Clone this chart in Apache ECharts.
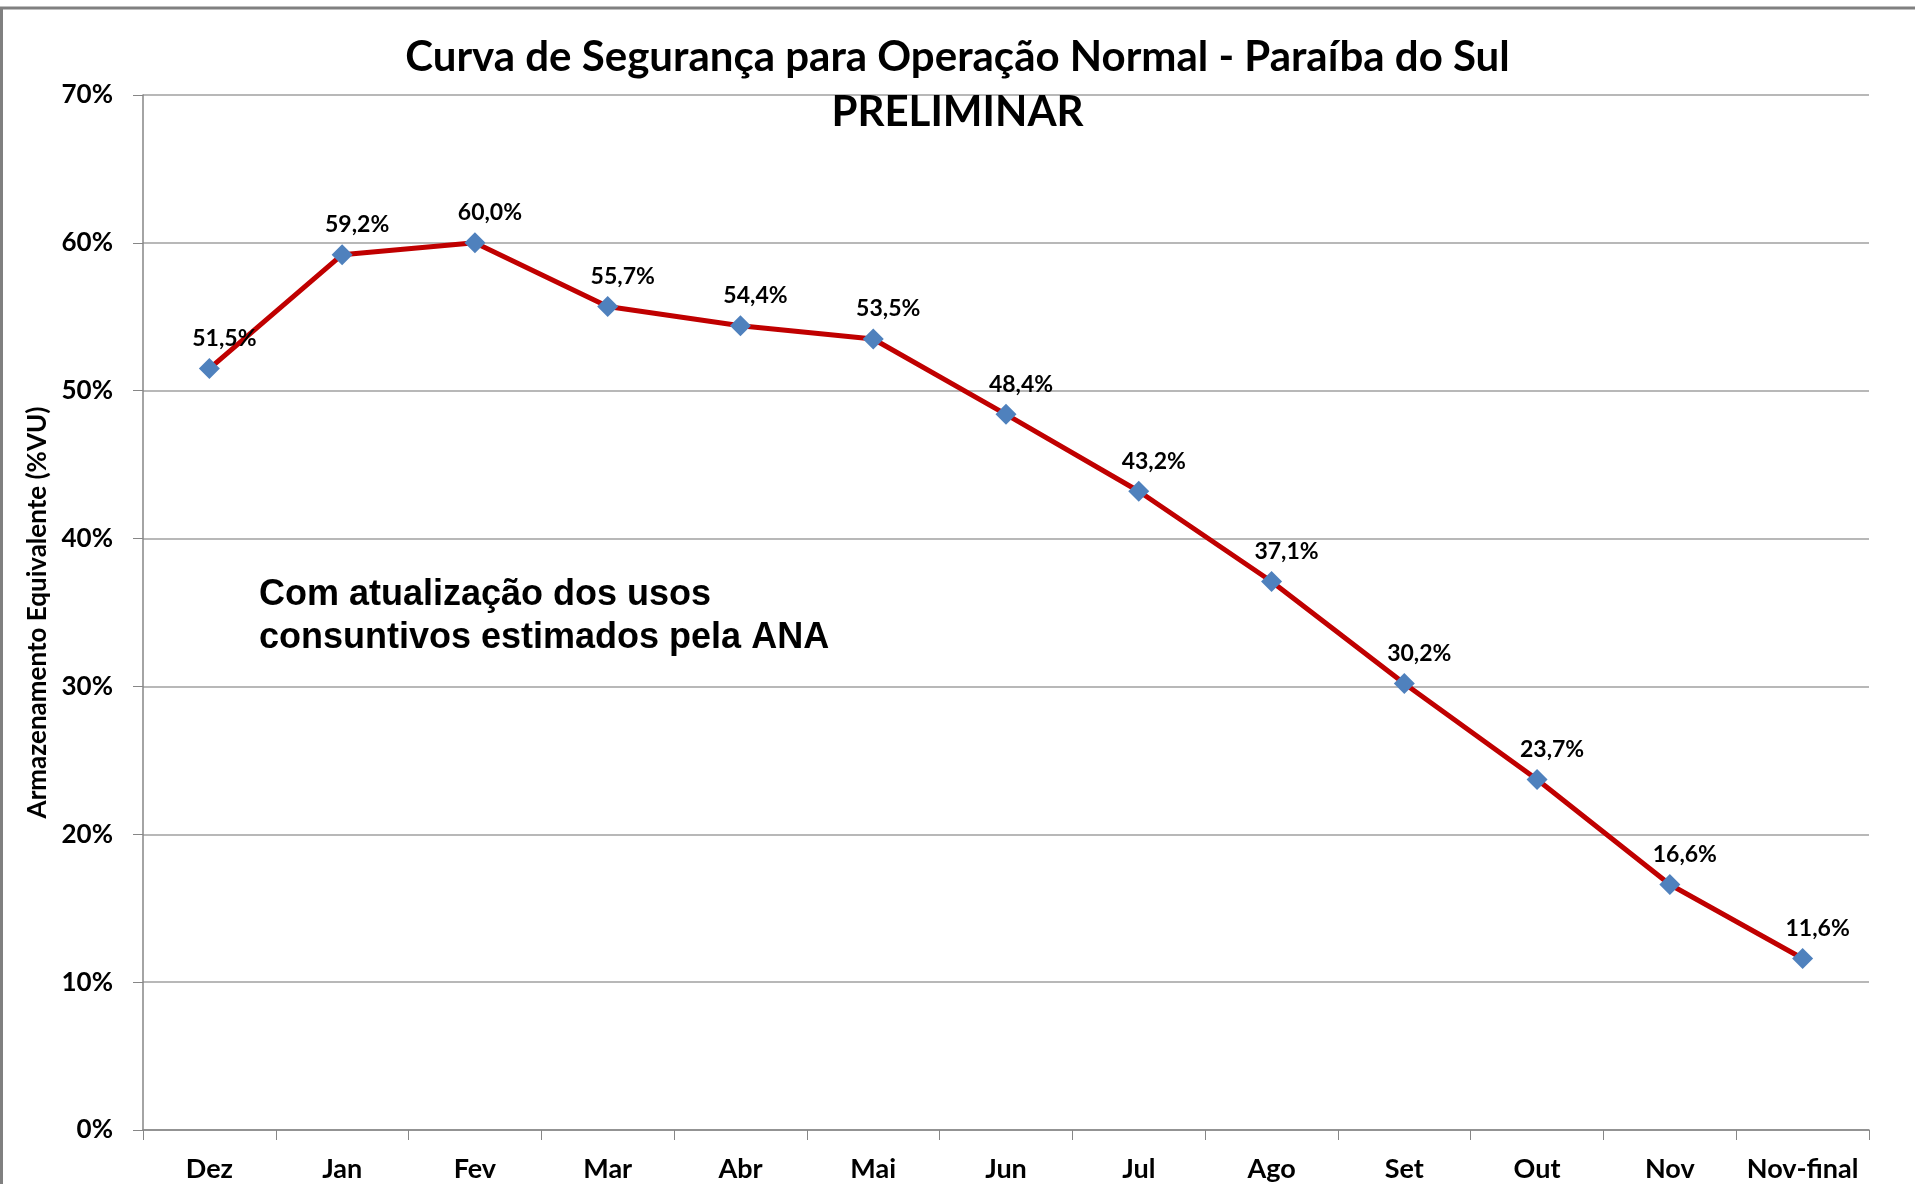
<!DOCTYPE html>
<html>
<head>
<meta charset="utf-8">
<title>Curva de Segurança - Paraíba do Sul</title>
<script src="https://cdn.jsdelivr.net/npm/echarts@6/dist/echarts.min.js"></script>
<style>
  html, body { margin: 0; padding: 0; background: #fff; }
  #chart { width: 1915px; height: 1184px; }
</style>
</head>
<body>
<div id="chart"></div>
<script>
// dados
const meses = ['Dez', 'Jan', 'Fev', 'Mar', 'Abr', 'Mai', 'Jun', 'Jul', 'Ago', 'Set', 'Out', 'Nov', 'Nov-final'];
const armazenamento = [51.5, 59.2, 60.0, 55.7, 54.4, 53.5, 48.4, 43.2, 37.1, 30.2, 23.7, 16.6, 11.6];
const yTicks = [0, 10, 20, 30, 40, 50, 60, 70];

const chart = echarts.init(document.getElementById('chart'));

const fmt = v => v.toFixed(1).replace('.', ',') + '%';

const option = {
  backgroundColor: '#ffffff',
  animation: false,
  title: {
    text: 'Curva de Segurança para Operação Normal - Paraíba do Sul\nPRELIMINAR',
    left: 'center',
    top: 25,
    textStyle: {
      fontFamily: 'Lato',
      fontWeight: 'bold',
      fontSize: 42,
      lineHeight: 55,
      color: '#000'
    }
  },
  grid: { left: 143, right: 46, top: 95, bottom: 54 },
  xAxis: {
    type: 'category',
    data: meses,
    boundaryGap: true,
    axisLine: { lineStyle: { color: '#868686', width: 1.5 } },
    axisTick: { show: true, length: 10, interval: 0, lineStyle: { color: '#868686' } },
    axisLabel: {
      interval: 0,
      margin: 26,
      fontFamily: 'Lato',
      fontWeight: 'bold',
      fontSize: 27,
      color: '#000'
    }
  },
  yAxis: {
    type: 'value',
    min: yTicks[0],
    max: yTicks[yTicks.length - 1],
    interval: 10,
    name: 'Armazenamento Equivalente (%VU)',
    nameLocation: 'middle',
    nameGap: 91,
    nameTextStyle: {
      fontFamily: 'Lato',
      fontWeight: 'bold',
      fontSize: 26,
      color: '#000'
    },
    axisLine: { show: true, lineStyle: { color: '#868686', width: 1.5 } },
    axisTick: { show: true, length: 10, lineStyle: { color: '#868686' } },
    splitLine: { lineStyle: { color: '#a0a0a0', width: 1.5 } },
    axisLabel: {
      margin: 30,
      formatter: '{value}%',
      fontFamily: 'Lato',
      fontWeight: 'bold',
      fontSize: 26,
      color: '#000'
    }
  },
  series: [{
    type: 'line',
    data: armazenamento,
    symbol: 'path://M0,-1L1,0L0,1L-1,0Z',
    symbolSize: 21,
    itemStyle: { color: '#4F81BD' },
    lineStyle: { color: '#C00000', width: 5 },
    z: 3,
    label: {
      show: true,
      position: 'top',
      distance: 6,
      offset: [15, -2],
      formatter: p => fmt(p.value),
      fontFamily: 'Lato',
      fontWeight: 'bold',
      fontSize: 23,
      color: '#000'
    }
  }],
  graphic: [
    {
      type: 'rect',
      shape: { x: 1.5, y: 8, width: 2000, height: 2000 },
      style: { fill: 'none', stroke: '#808080', lineWidth: 3 },
      silent: true
    },
    {
      type: 'text',
      left: 259,
      top: 574,
      style: {
        text: 'Com atualização dos usos\nconsuntivos estimados pela ANA',
        font: 'bold 36px "Liberation Sans", Arial, sans-serif',
        lineHeight: 43,
        fill: '#000'
      }
    }
  ]
};

chart.setOption(option);
window.addEventListener('resize', () => chart.resize());
</script>
</body>
</html>
